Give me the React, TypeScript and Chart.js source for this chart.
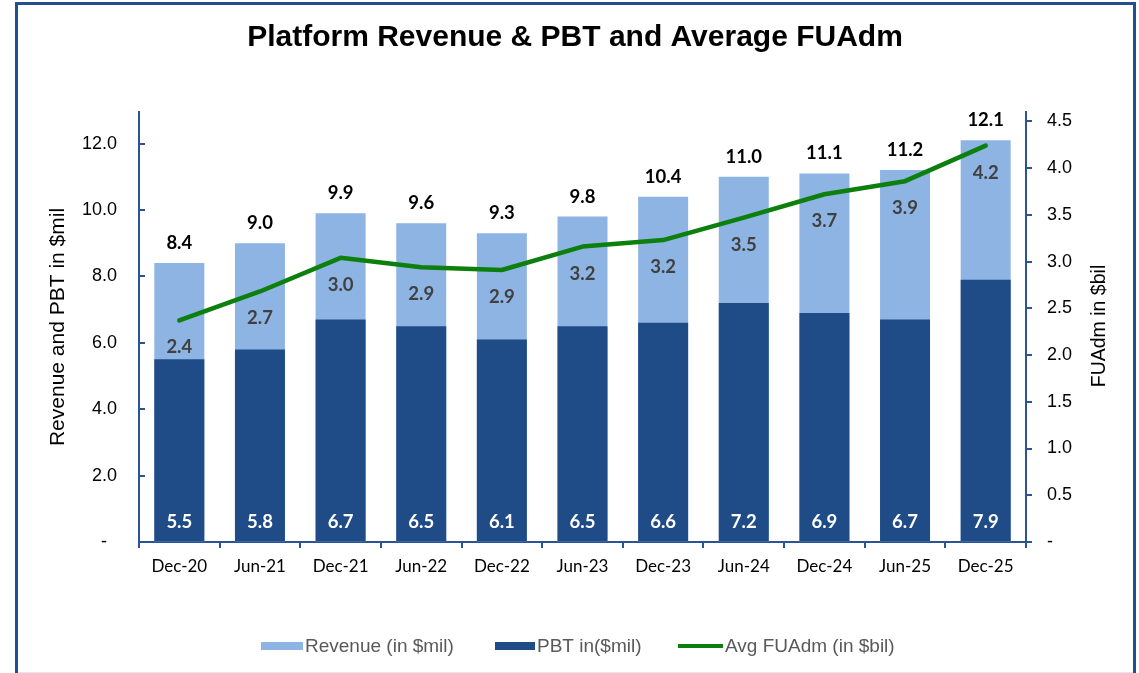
import React, { useEffect, useRef } from "react";
import { Chart, registerables } from "chart.js";

Chart.register(...registerables);

const categories = ["Dec-20", "Jun-21", "Dec-21", "Jun-22", "Dec-22", "Jun-23", "Dec-23", "Jun-24", "Dec-24", "Jun-25", "Dec-25"];
const revenue = [8.4, 9.0, 9.9, 9.6, 9.3, 9.8, 10.4, 11.0, 11.1, 11.2, 12.1];
const pbt = [5.5, 5.8, 6.7, 6.5, 6.1, 6.5, 6.6, 7.2, 6.9, 6.7, 7.9];
const avgFuadm = [2.37, 2.68, 3.04, 2.94, 2.91, 3.16, 3.23, 3.47, 3.72, 3.86, 4.24];
const leftTicks = [0, 2, 4, 6, 8, 10, 12];
const rightTicks = [0, 0.5, 1, 1.5, 2, 2.5, 3, 3.5, 4, 4.5];
const seriesNames = ["Revenue (in $mil)", "PBT in($mil)", "Avg FUAdm (in $bil)"];
const titleText = "Platform Revenue & PBT and Average FUAdm";
const leftAxisTitle = "Revenue and PBT in $mil";
const rightAxisTitle = "FUAdm in $bil";

const LIGHT = "#8DB4E2";
const DARK = "#1F4B87";
const GREEN = "#0C7F0C";
const AXIS = "#2A5496";
const FRAME = "#22508F";
const ARIAL = "'Liberation Sans', Arial, sans-serif";
const CAL = "Lato, 'Open Sans', sans-serif";

const decorPlugin = {
  id: "decor",
  afterDatasetsDraw(chart: any) {
    const ctx = chart.ctx;
    const x = chart.scales.x;
    const y = chart.scales.y;
    const y1 = chart.scales.y1;
    ctx.save();
    ctx.textAlign = "center";
    ctx.textBaseline = "middle";
    ctx.font = `bold 18.5px ${CAL}`;
    categories.forEach((_, i) => {
      const cx = x.getPixelForValue(i);
      ctx.fillStyle = "#000000";
      ctx.fillText(revenue[i].toFixed(1), cx, y.getPixelForValue(revenue[i]) - 20);
      ctx.fillStyle = "#FFFFFF";
      ctx.fillText(pbt[i].toFixed(1), cx, y.getPixelForValue(0) - 20);
      ctx.fillStyle = "#404040";
      ctx.fillText(avgFuadm[i].toFixed(1), cx, y1.getPixelForValue(avgFuadm[i]) + 27);
    });
    ctx.restore();
  },
  afterDraw(chart: any) {
    const ctx = chart.ctx;
    const area = chart.chartArea;
    const y = chart.scales.y;
    ctx.save();
    ctx.strokeStyle = FRAME;
    ctx.lineWidth = 3;
    ctx.beginPath();
    ctx.moveTo(16.5, 673);
    ctx.lineTo(16.5, 3.5);
    ctx.lineTo(1134.5, 3.5);
    ctx.lineTo(1134.5, 673);
    ctx.stroke();
    ctx.strokeStyle = "#E3E6EA";
    ctx.lineWidth = 1;
    ctx.beginPath();
    ctx.moveTo(18, 672.5);
    ctx.lineTo(1133, 672.5);
    ctx.stroke();

    ctx.strokeStyle = AXIS;
    ctx.lineWidth = 2;
    leftTicks.forEach((v) => {
      const py = Math.round(y.getPixelForValue(v));
      ctx.beginPath();
      ctx.moveTo(area.left, py);
      ctx.lineTo(area.left + 6, py);
      ctx.stroke();
    });

    ctx.fillStyle = "#000000";
    ctx.textAlign = "center";
    ctx.textBaseline = "middle";
    ctx.font = `bold 30px ${ARIAL}`;
    ctx.fillText(titleText, 575, 38);

    ctx.save();
    ctx.translate(58, 327);
    ctx.rotate(-Math.PI / 2);
    ctx.font = `21px ${ARIAL}`;
    ctx.fillText(leftAxisTitle, 0, 0);
    ctx.restore();
    ctx.save();
    ctx.translate(1100, 326);
    ctx.rotate(-Math.PI / 2);
    ctx.font = `19.5px ${ARIAL}`;
    ctx.fillText(rightAxisTitle, 0, 0);
    ctx.restore();

    const ly = 646;
    ctx.font = `19px ${ARIAL}`;
    ctx.textAlign = "left";
    ctx.fillStyle = LIGHT;
    ctx.fillRect(261, ly - 4, 42, 8);
    ctx.fillStyle = DARK;
    ctx.fillRect(495, ly - 4, 40, 8);
    ctx.strokeStyle = GREEN;
    ctx.lineWidth = 4;
    ctx.beginPath();
    ctx.moveTo(678, ly);
    ctx.lineTo(723, ly);
    ctx.stroke();
    ctx.fillStyle = "#595959";
    ctx.fillText(seriesNames[0], 305, ly + 1);
    ctx.fillText(seriesNames[1], 537, ly + 1);
    ctx.fillText(seriesNames[2], 725, ly + 1);
    ctx.restore();
  },
};

export default function App() {
  const ref = useRef<HTMLCanvasElement | null>(null);
  useEffect(() => {
    if (!ref.current) return;
    const chart = new Chart(ref.current, {
      type: "bar",
      data: {
        labels: categories,
        datasets: [
          {
            type: "bar",
            label: seriesNames[0],
            data: revenue,
            backgroundColor: LIGHT,
            borderWidth: 0,
            yAxisID: "y",
            order: 3,
            barPercentage: 0.62,
            categoryPercentage: 1.0,
          },
          {
            type: "bar",
            label: seriesNames[1],
            data: pbt,
            backgroundColor: DARK,
            borderWidth: 0,
            yAxisID: "y",
            order: 2,
            barPercentage: 0.62,
            categoryPercentage: 1.0,
          },
          {
            type: "line",
            label: seriesNames[2],
            data: avgFuadm,
            borderColor: GREEN,
            backgroundColor: GREEN,
            borderWidth: 4.5,
            pointRadius: 0,
            tension: 0,
            borderJoinStyle: "round",
            borderCapStyle: "round",
            yAxisID: "y1",
            order: 1,
          },
        ],
      } as any,
      options: {
        responsive: false,
        animation: false,
        devicePixelRatio: 1,
        layout: { padding: { left: 0, right: 0, top: 112, bottom: 0 } },
        plugins: {
          legend: { display: false },
          title: { display: false },
          tooltip: { enabled: false },
        },
        scales: {
          x: {
            stacked: true,
            grid: {
              display: true,
              drawOnChartArea: false,
              drawTicks: true,
              tickLength: 6,
              color: AXIS,
              lineWidth: 2,
              offset: true,
            },
            border: { display: true, color: AXIS, width: 2 },
            ticks: { color: "#000000", font: { family: CAL, size: 17 }, padding: 8, maxRotation: 0 },
            afterFit: (s: any) => {
              s.height = 131;
            },
          },
          y: {
            type: "linear",
            position: "left",
            stacked: false,
            min: 0,
            max: 12.95,
            grid: { display: true, drawOnChartArea: false, drawTicks: false },
            border: { display: true, color: AXIS, width: 2 },
            afterBuildTicks: (s: any) => {
              s.ticks = leftTicks.map((v) => ({ value: v }));
            },
            ticks: {
              color: "#000000",
              font: { family: ARIAL, size: 18 },
              padding: 22,
              callback: (v: any) => (Number(v) === 0 ? "-  " : Number(v).toFixed(1)),
            },
            afterFit: (s: any) => {
              s.width = 139;
            },
          },
          y1: {
            type: "linear",
            position: "right",
            min: 0,
            max: 4.6,
            grid: {
              display: true,
              drawOnChartArea: false,
              drawTicks: true,
              tickLength: 6,
              color: AXIS,
              lineWidth: 2,
            },
            border: { display: true, color: AXIS, width: 2 },
            afterBuildTicks: (s: any) => {
              s.ticks = rightTicks.map((v) => ({ value: v }));
            },
            ticks: {
              color: "#000000",
              font: { family: ARIAL, size: 18 },
              padding: 15,
              callback: (v: any) => (Number(v) === 0 ? "-" : Number(v).toFixed(1)),
            },
            afterFit: (s: any) => {
              s.width = 113;
            },
          },
        },
      } as any,
      plugins: [decorPlugin],
    });
    return () => chart.destroy();
  }, []);

  return (
    <div style={{ position: "absolute", left: 0, top: 0, width: 1139, height: 673, background: "#FFFFFF" }}>
      <canvas ref={ref} width={1139} height={673} style={{ display: "block" }} />
    </div>
  );
}
